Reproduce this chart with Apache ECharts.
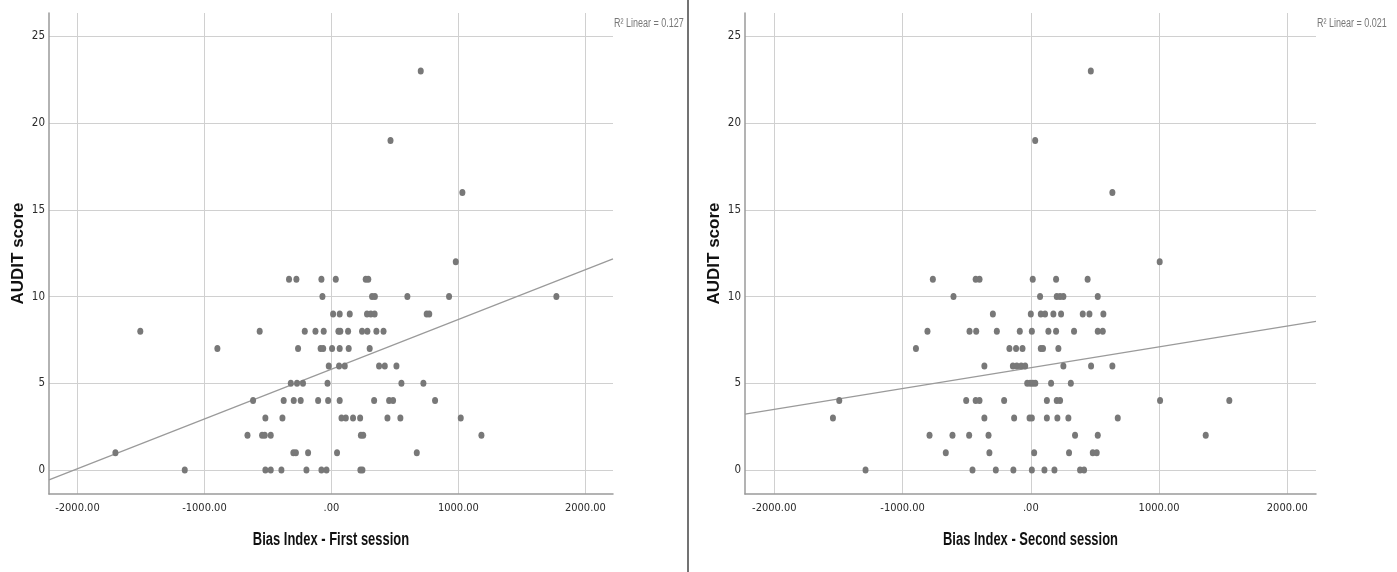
<!DOCTYPE html>
<html>
<head>
<meta charset="utf-8">
<script src="https://cdn.jsdelivr.net/npm/echarts@6/dist/echarts.min.js"></script>
<style>
html,body{margin:0;padding:0;background:#ffffff;}
#chart{width:1397px;height:572px;}
</style>
</head>
<body>
<div id="chart"></div>
<script>
// ---- Data ----
// First session: Bias Index (x) and AUDIT score (y)
const firstX = [
  703, 465, 1031, 979,
  -334, -276, -79, 34, 270, 290,
  -71, 320, 342, 598, 926, 1771,
  13, 65, 144, 280, 310, 340, 750, 770,
  -1505, -565, -210, -126, -61, 55, 70, 131, 241, 283, 354, 410,
  -898, -263, -85, -65, 5, 65, 136, 301,
  -21, 60, 105, 375, 420, 512,
  -320, -271, -224, -31, 551, 724,
  -617, -376, -297, -242, -105, -26, 65, 336, 454, 485, 816,
  -520, -386, 79, 113, 170, 226, 441, 543, 1018,
  -661, -546, -525, -478, 232, 250, 1181,
  -1701, -300, -280, -184, 44, 672,
  -1155, -520, -478, -394, -197, -79, -39, 228, 244
];
const firstY = [
  23, 19, 16, 12,
  11, 11, 11, 11, 11, 11,
  10, 10, 10, 10, 10, 10,
  9, 9, 9, 9, 9, 9, 9, 9,
  8, 8, 8, 8, 8, 8, 8, 8, 8, 8, 8, 8,
  7, 7, 7, 7, 7, 7, 7, 7,
  6, 6, 6, 6, 6, 6,
  5, 5, 5, 5, 5, 5,
  4, 4, 4, 4, 4, 4, 4, 4, 4, 4, 4,
  3, 3, 3, 3, 3, 3, 3, 3, 3,
  2, 2, 2, 2, 2, 2, 2,
  1, 1, 1, 1, 1, 1,
  0, 0, 0, 0, 0, 0, 0, 0, 0
];
// Second session
const secondX = [
  468, 34, 636, 1005,
  -764, -430, -400, 15, 197, 443,
  -603, 72, 202, 228, 254, 522,
  -296, 0, 78, 111, 176, 236, 405, 457, 566,
  -806, -478, -426, -265, -86, 8, 137, 197, 337, 522, 561,
  -896, -167, -115, -65, 78, 95, 215,
  -362, -140, -109, -75, -44, 254, 470, 636,
  -28, -5, 15, 35, 158, 312,
  -1494, -504, -430, -400, -208, 125, 202, 228, 1008, 1548,
  -1543, -362, -130, -10, 8, 125, 207, 293, 678,
  -790, -611, -481, -330, 345, 522, 1364,
  -663, -323, 26, 298, 483, 514,
  -1289, -455, -273, -136, 8, 106, 184, 384, 415
];
const secondY = [
  23, 19, 16, 12,
  11, 11, 11, 11, 11, 11,
  10, 10, 10, 10, 10, 10,
  9, 9, 9, 9, 9, 9, 9, 9, 9,
  8, 8, 8, 8, 8, 8, 8, 8, 8, 8, 8,
  7, 7, 7, 7, 7, 7, 7,
  6, 6, 6, 6, 6, 6, 6, 6,
  5, 5, 5, 5, 5, 5,
  4, 4, 4, 4, 4, 4, 4, 4, 4, 4,
  3, 3, 3, 3, 3, 3, 3, 3, 3,
  2, 2, 2, 2, 2, 2, 2,
  1, 1, 1, 1, 1, 1,
  0, 0, 0, 0, 0, 0, 0, 0, 0
];
// Linear fit lines
const firstFitIntercept = 5.81;
const firstFitSlope = 0.00287;
const secondFitIntercept = 5.90;
const secondFitSlope = 0.0012;
// Tick labels
const xTickValues = [-2000, -1000, 0, 1000, 2000];
const xTickLabels = ['-2000.00', '-1000.00', '.00', '1000.00', '2000.00'];
const yTickValues = [0, 5, 10, 15, 20, 25];
const yTickLabels = ['0', '5', '10', '15', '20', '25'];
// Texts
const xTitles = ['Bias Index - First session', 'Bias Index - Second session'];
const yTitle = 'AUDIT score';
const rSquaredTexts = ['R\u00B2 Linear = 0.127', 'R\u00B2 Linear = 0.021'];

// ---- Styling / layout ----
const NARROW = '"Liberation Sans Narrow", "Arial Narrow", "DejaVu Sans Condensed", "Liberation Sans", sans-serif';
const SANS = '"Liberation Sans", Arial, sans-serif';
const xExtents = [[-2224, 2217], [-2229, 2224]];
const yExtent = [-1.385, 26.35];
const gridBoxes = [
  { left: 49, top: 13, width: 564, height: 481 },
  { left: 745, top: 13, width: 571, height: 481 }
];

function xFmt(v) {
  const i = xTickValues.indexOf(Math.round(v * 1000) / 1000);
  return i >= 0 ? xTickLabels[i] : '';
}
function yFmt(v) {
  const i = yTickValues.indexOf(Math.round(v * 1000) / 1000);
  return i >= 0 ? yTickLabels[i] : '';
}

function makeXAxis(idx) {
  return {
    type: 'value', gridIndex: idx,
    min: xExtents[idx][0], max: xExtents[idx][1],
    axisLine: { show: true, onZero: false, lineStyle: { color: '#9a9a9a', width: 1.5 } },
    axisTick: { show: false },
    axisLabel: { formatter: xFmt, showMinLabel: false, showMaxLabel: false, margin: 9,
      fontFamily: NARROW, fontSize: 11, color: '#2a2a2a' },
    splitLine: { show: true, showMinLine: false, showMaxLine: false, lineStyle: { color: '#d0d0d0', width: 1 } }
  };
}
function makeYAxis(idx) {
  return {
    type: 'value', gridIndex: idx,
    min: yExtent[0], max: yExtent[1],
    name: yTitle, nameLocation: 'middle', nameGap: 22,
    nameTextStyle: { fontFamily: SANS, fontWeight: 'bold', fontSize: 17, color: '#111' },
    axisLine: { show: true, onZero: false, lineStyle: { color: '#9a9a9a', width: 1.5 } },
    axisTick: { show: false },
    axisLabel: { formatter: yFmt, showMinLabel: false, showMaxLabel: false, margin: 4,
      fontFamily: NARROW, fontSize: 11.5, color: '#2a2a2a' },
    splitLine: { show: true, showMinLine: false, showMaxLine: false, lineStyle: { color: '#d0d0d0', width: 1 } }
  };
}
function scatter(idx, xs, ys) {
  return {
    type: 'scatter', xAxisIndex: idx, yAxisIndex: idx,
    data: xs.map((x, i) => [x, ys[i]]),
    symbol: 'circle', symbolSize: [6, 7],
    itemStyle: { color: '#787878', opacity: 1 },
    silent: true, z: 3
  };
}
function fitLine(idx, a, b) {
  const [x0, x1] = xExtents[idx];
  return {
    type: 'line', xAxisIndex: idx, yAxisIndex: idx,
    data: [[x0, a + b * x0], [x1, a + b * x1]],
    symbol: 'none', clip: true, silent: true,
    lineStyle: { color: '#9a9a9a', width: 1.2 }, z: 2
  };
}
function xTitle(idx) {
  const g = gridBoxes[idx];
  return {
    type: 'text', x: g.left + g.width / 2, y: 540, scaleX: 0.72,
    style: { text: xTitles[idx], fontFamily: SANS, fontWeight: 'bold', fontSize: 18, fill: '#111',
      align: 'center', verticalAlign: 'middle' }
  };
}
function rSquared(idx) {
  const g = gridBoxes[idx];
  return {
    type: 'text', x: g.left + g.width + 1, y: 24, scaleX: 0.75,
    style: { text: rSquaredTexts[idx], fontFamily: SANS, fontSize: 12, fill: '#777',
      align: 'left', verticalAlign: 'middle' }
  };
}

const chart = echarts.init(document.getElementById('chart'), null, { renderer: 'canvas' });
chart.setOption({
  animation: false,
  backgroundColor: '#ffffff',
  grid: gridBoxes.map(g => Object.assign({ containLabel: false, outerBoundsMode: 'none' }, g)),
  xAxis: [makeXAxis(0), makeXAxis(1)],
  yAxis: [makeYAxis(0), makeYAxis(1)],
  series: [
    scatter(0, firstX, firstY),
    fitLine(0, firstFitIntercept, firstFitSlope),
    scatter(1, secondX, secondY),
    fitLine(1, secondFitIntercept, secondFitSlope)
  ],
  graphic: [
    { type: 'line', shape: { x1: 688, y1: 0, x2: 688, y2: 572 }, style: { stroke: '#444', lineWidth: 1.5 } },
    xTitle(0), xTitle(1), rSquared(0), rSquared(1)
  ]
});
</script>
</body>
</html>
